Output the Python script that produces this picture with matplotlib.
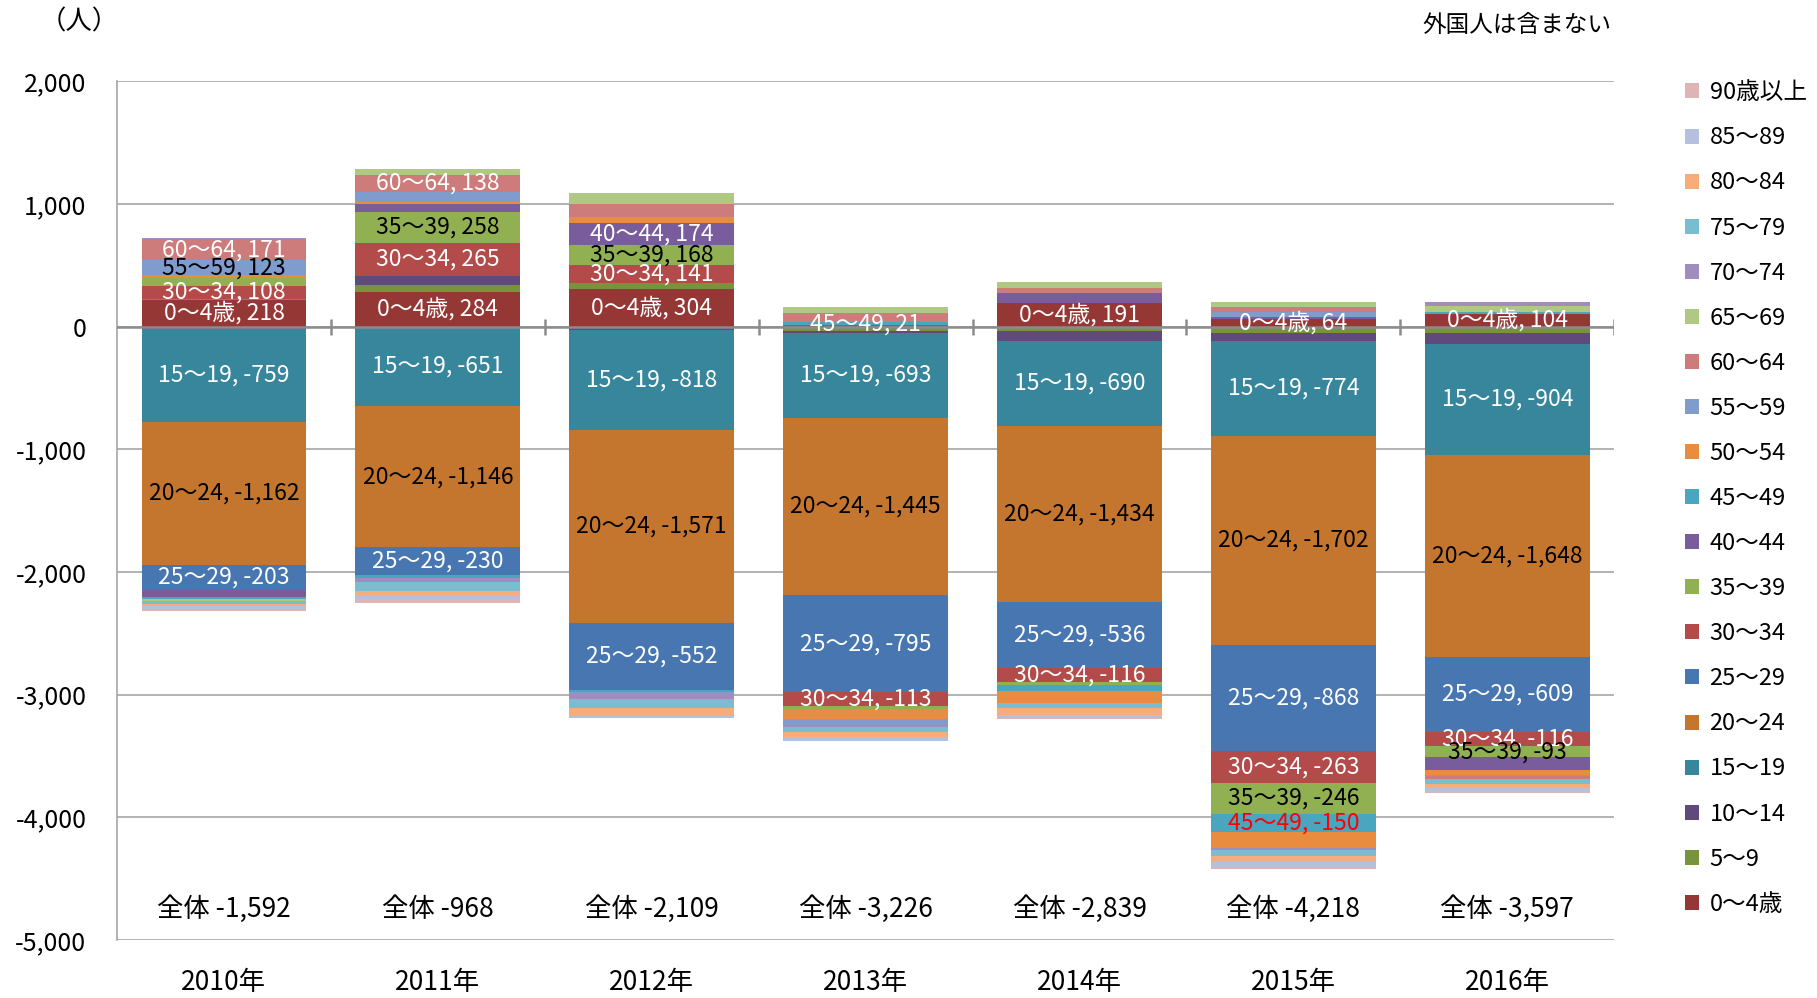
import matplotlib
matplotlib.use("Agg")
import matplotlib.pyplot as plt
from matplotlib.patches import Patch

plt.rcParams['font.family'] = ['Noto Sans CJK JP', 'DejaVu Sans']

years = ['2010年', '2011年', '2012年', '2013年', '2014年', '2015年', '2016年']
totals = [-1592, -968, -2109, -3226, -2839, -4218, -3597]

groups = ['0～4歳', '5～9', '10～14', '15～19', '20～24', '25～29', '30～34',
          '35～39', '40～44', '45～49', '50～54', '55～59', '60～64', '65～69',
          '70～74', '75～79', '80～84', '85～89', '90歳以上']

# net change per age group, 2010..2016
a0_4 = [218, 284, 304, -8, 191, 64, 104]
a5_9 = [8, 54, 54, -30, -38, -54, -49]
a10_14 = [-20, 76, -25, -11, -81, -62, -92]
a15_19 = [-759, -651, -818, -693, -690, -774, -904]
a20_24 = [-1162, -1146, -1571, -1445, -1434, -1702, -1648]
a25_29 = [-203, -230, -552, -795, -536, -868, -609]
a30_34 = [108, 265, 141, -113, -116, -263, -116]
a35_39 = [60, 258, 168, -19, -27, -246, -93]
a40_44 = [-60, 62, 174, 13, 81, 16, -100]
a45_49 = [-20, -19, -12, 21, -46, -150, 16]
a50_54 = [22, 19, 54, -87, -103, -128, -41]
a55_59 = [123, 81, -10, -49, 0, 41, -15]
a60_64 = [171, 138, 100, 76, 46, 35, -20]
a65_69 = [-10, 46, 90, 46, 43, 46, 49]
a70_74 = [14, -38, -49, -14, 0, -19, 33]
a75_79 = [-25, -68, -73, -41, -41, -49, -40]
a80_84 = [-22, -41, -66, -41, -56, -46, -30]
a85_89 = [-20, -30, -12, -33, -24, -44, -30]
a90 = [-15, -28, -6, -3, -8, -15, -12]

series = [a0_4, a5_9, a10_14, a15_19, a20_24, a25_29, a30_34, a35_39, a40_44,
          a45_49, a50_54, a55_59, a60_64, a65_69, a70_74, a75_79, a80_84,
          a85_89, a90]

colors = ['#953735', '#77933C', '#604A7B', '#37869B', '#C4762F', '#4876B0',
          '#B24B49', '#91B052', '#785C9B', '#4AA5BE', '#E98C40', '#7F9CCD',
          '#CD7B7B', '#AFC882', '#A08CBE', '#7BBDD0', '#F8AC7A', '#B4C0DE',
          '#DEB4B4']

# segments that carry a value label, per year (group indices)
labeled = [
    [0, 3, 4, 5, 6, 11, 12],
    [0, 3, 4, 5, 6, 7, 12],
    [0, 3, 4, 5, 6, 7, 8],
    [3, 4, 5, 6, 9],
    [0, 3, 4, 5, 6],
    [0, 3, 4, 5, 6, 7, 9],
    [0, 3, 4, 5, 6, 7],
]
dark_label_groups = {4, 7, 11}

fig = plt.figure(figsize=(18.17, 9.98), dpi=100)
ax = fig.add_axes([0.0644, 0.0581, 0.824, 0.8606])

x = list(range(len(years)))
width = 0.77
pos_base = [0.0] * len(years)
neg_base = [0.0] * len(years)
centers = {}
for gi, vals in enumerate(series):
    bottoms = []
    for yi, v in enumerate(vals):
        if v >= 0:
            bottoms.append(pos_base[yi])
            centers[(yi, gi)] = pos_base[yi] + v / 2
            pos_base[yi] += v
        else:
            bottoms.append(neg_base[yi])
            centers[(yi, gi)] = neg_base[yi] + v / 2
            neg_base[yi] += v
    ax.bar(x, vals, width=width, bottom=bottoms, color=colors[gi],
           linewidth=0, zorder=3)

for yi, glist in enumerate(labeled):
    for gi in glist:
        v = series[gi][yi]
        if yi == 5 and gi == 9:
            c = '#FF0000'
        elif gi in dark_label_groups:
            c = 'black'
        else:
            c = 'white'
        ax.text(x[yi], centers[(yi, gi)], f"{groups[gi]}, {v:,}",
                ha='center', va='center', fontsize=16.5, color=c, zorder=5)

for yi, t in enumerate(totals):
    ax.text(x[yi], -4750, f"全体 {t:,}", ha='center', va='center',
            fontsize=19, color='black', zorder=5)

ax.set_xlim(-0.5, len(years) - 0.5)
ax.set_ylim(-5000, 2000)
ax.set_yticks(range(-5000, 2001, 1000))
ax.set_yticklabels([f"{v:,}" for v in range(-5000, 2001, 1000)], fontsize=18)
ax.set_xticks(x)
ax.set_xticklabels(years, fontsize=19)
ax.tick_params(axis='y', length=0, pad=22)
ax.tick_params(axis='x', length=0, pad=21)
ax.grid(axis='y', color='#A6A6A6', linewidth=1.2, zorder=0)
for s in ['top', 'right', 'bottom']:
    ax.spines[s].set_visible(False)
ax.spines['left'].set_color('#A6A6A6')
ax.spines['left'].set_linewidth(1.2)

# category axis at zero with crossing tick marks between groups
ax.axhline(0, color='#8C8C8C', linewidth=1.8, zorder=4)
ax.vlines([i + 0.5 for i in range(len(years))], -65, 65, color='#8C8C8C',
          linewidth=1.8, zorder=4)

fig.text(0.022, 0.978, '（人）', fontsize=19, ha='left', va='center')
fig.text(0.887, 0.974, '外国人は含まない', fontsize=17, ha='right', va='center')

handles = [Patch(facecolor=colors[i], edgecolor='none') for i in range(len(groups) - 1, -1, -1)]
labels = [groups[i] for i in range(len(groups) - 1, -1, -1)]
fig.legend(handles, labels, loc='upper left', bbox_to_anchor=(0.922, 0.928),
           frameon=False, fontsize=17, handlelength=0.6, handleheight=0.6,
           handletextpad=0.45, labelspacing=0.935, borderaxespad=0)

fig.savefig('out.png', dpi=100)
